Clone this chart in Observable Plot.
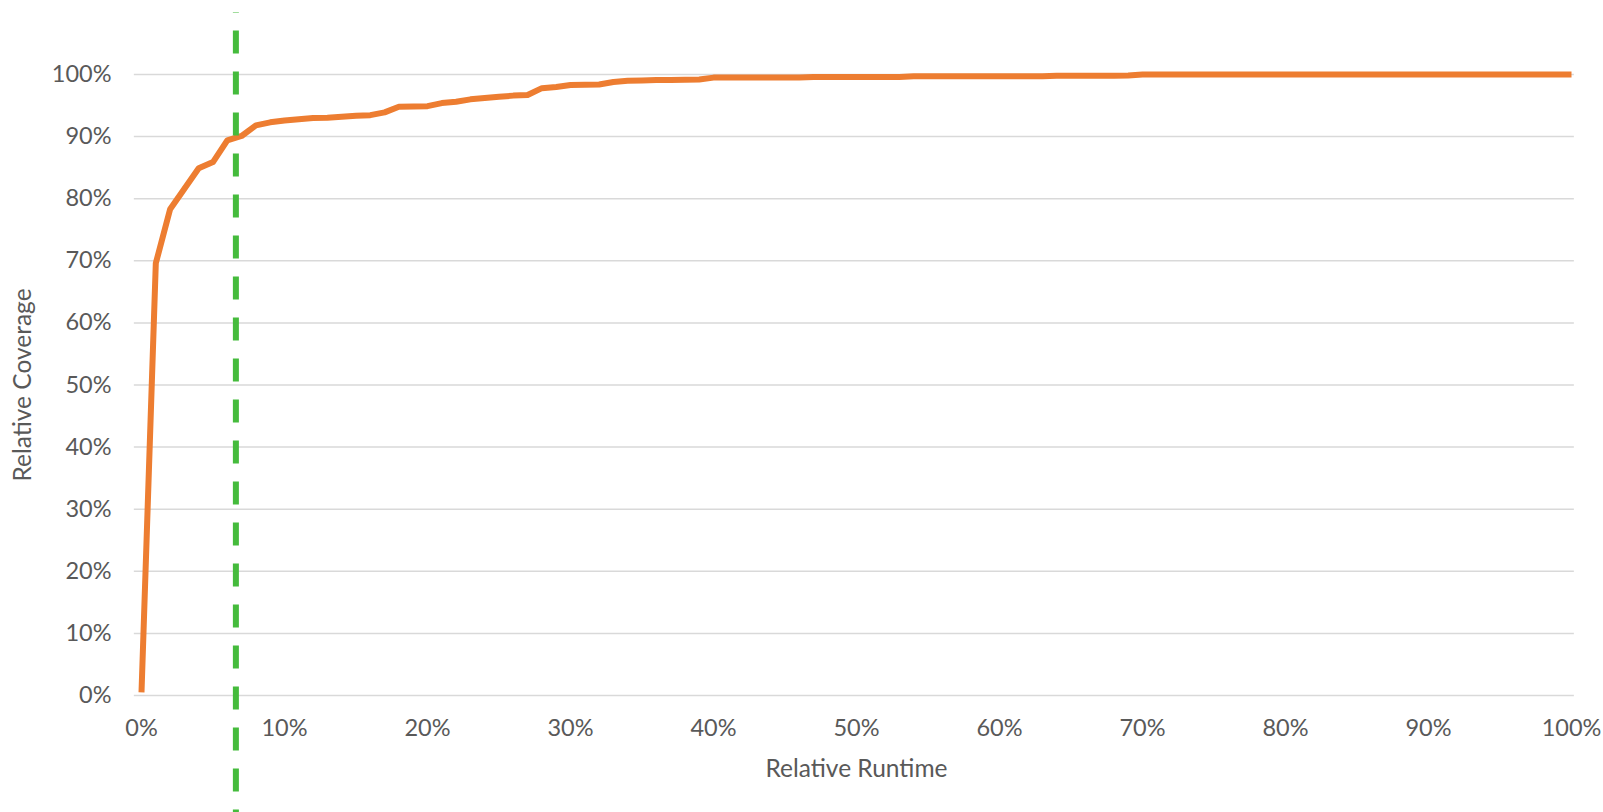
<!DOCTYPE html>
<html>
<head>
<meta charset="utf-8">
<script src="https://cdn.jsdelivr.net/npm/d3@7"></script>
<script src="https://cdn.jsdelivr.net/npm/@observablehq/plot@0.6"></script>
<style>
  html, body { margin: 0; padding: 0; background: #ffffff; }
</style>
</head>
<body>
<div id="chart"></div>
<script>
// Relative runtime (x) and relative coverage (y)
const runtime = [
  0.00, 0.01, 0.02, 0.03, 0.04, 0.05, 0.06, 0.07, 0.08, 0.09,
  0.10, 0.11, 0.12, 0.13, 0.14, 0.15, 0.16, 0.17, 0.18, 0.19,
  0.20, 0.21, 0.22, 0.23, 0.24, 0.25, 0.26, 0.27, 0.28, 0.29,
  0.30, 0.31, 0.32, 0.33, 0.34, 0.35, 0.36, 0.37, 0.38, 0.39,
  0.40, 0.46, 0.47, 0.53, 0.54, 0.63, 0.64, 0.68, 0.69, 0.70, 1.00
];
const coverage = [
  0.005, 0.696, 0.783, 0.816, 0.849, 0.859, 0.894, 0.901, 0.918, 0.923,
  0.926, 0.928, 0.930, 0.9305, 0.932, 0.9335, 0.9345, 0.939, 0.948, 0.9485,
  0.949, 0.954, 0.956, 0.960, 0.962, 0.964, 0.966, 0.967, 0.978, 0.980,
  0.983, 0.9835, 0.984, 0.988, 0.990, 0.9905, 0.991, 0.991, 0.9915, 0.992,
  0.995, 0.995, 0.996, 0.996, 0.997, 0.997, 0.998, 0.998, 0.9985, 1.000, 1.000
];
const yTicks = [0, 0.1, 0.2, 0.3, 0.4, 0.5, 0.6, 0.7, 0.8, 0.9, 1.0];
const xTicks = [0, 0.1, 0.2, 0.3, 0.4, 0.5, 0.6, 0.7, 0.8, 0.9, 1.0];
const thresholdRuntime = [0.066];
const xLabel = "Relative Runtime";
const yLabel = "Relative Coverage";

const data = runtime.map((x, i) => ({x, y: coverage[i]}));
const pct = d => Math.round(d * 100) + "%";

const chart = Plot.plot({
  width: 1603,
  height: 812,
  marginLeft: 141,
  marginRight: 32,
  marginTop: 74,
  marginBottom: 117,
  x: {domain: [0, 1]},
  y: {domain: [0, 1]},
  style: {
    fontFamily: "Lato, 'Open Sans', sans-serif",
    fontSize: "23.5px",
    color: "#595959",
    background: "#ffffff",
    overflow: "visible"
  },
  marks: [
    Plot.ruleY(yTicks, {x1: -0.005, x2: 1.002, stroke: "#d9d9d9", strokeWidth: 1.5}),
    Plot.axisY(yTicks, {
      tickSize: 0, tickPadding: 30, tickFormat: pct, fontSize: 23.5,
      label: null
    }),
    Plot.axisY({
      ticks: [], tickSize: 0, fontSize: 24.5,
      label: yLabel, labelAnchor: "center", labelOffset: 128, labelArrow: "none"
    }),
    Plot.axisX(xTicks, {
      tickSize: 0, tickPadding: 24, tickFormat: pct, fontSize: 23.5,
      label: null
    }),
    Plot.axisX({
      ticks: [], tickSize: 0, fontSize: 24.5,
      label: xLabel, labelAnchor: "center", labelOffset: 81, labelArrow: "none"
    }),
    Plot.line(data, {
      x: "x", y: "y", stroke: "#ED7D31", strokeWidth: 6,
      strokeLinejoin: "round", strokeLinecap: "butt"
    }),
    Plot.ruleX(thresholdRuntime, {
      y1: 1.1, y2: -0.2, stroke: "#45BB3C", strokeWidth: 6,
      strokeDasharray: "23,18", strokeDashoffset: 22.5
    })
  ]
});
document.getElementById("chart").append(chart);
</script>
</body>
</html>
